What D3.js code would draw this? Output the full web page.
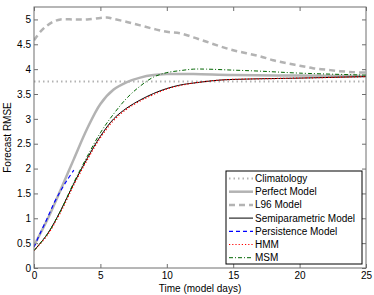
<!DOCTYPE html>
<html lang="en">
<head>
    <meta charset="UTF-8">
    <title>Forecast RMSE</title>
    <script src="https://cdn.jsdelivr.net/npm/d3@7/dist/d3.min.js"></script>
    <style>
        body { margin: 0; background: #fff; }
        text { font-family: "Liberation Sans", Arial, sans-serif; fill: #000; }
    </style>
</head>
<body>
    <div id="chart"></div>
    <script>
        // 数据
        const climT = [0, 25];
        const climV = [3.75, 3.75];

        const perfT = [0, 1, 2, 3, 4, 5, 6, 7, 8, 9, 10, 12, 15, 20, 25];
        const perfV = [0.45, 0.97, 1.57, 2.19, 2.8, 3.3, 3.59, 3.74, 3.83, 3.88, 3.9, 3.9, 3.88, 3.87, 3.86];

        const l96T = [0, 0.5, 1, 1.5, 2, 3, 4, 5, 5.5, 6, 7, 8, 9, 10, 11, 12, 13, 14, 15, 16, 17, 18, 19, 20, 21, 22, 23, 24, 25];
        const l96V = [4.58, 4.76, 4.88, 4.96, 5.0, 5.0, 5.0, 5.03, 5.04, 5.01, 4.95, 4.88, 4.81, 4.75, 4.72, 4.64, 4.55, 4.46, 4.38, 4.32, 4.26, 4.18, 4.12, 4.07, 4.02, 3.99, 3.96, 3.94, 3.93];

        const semiT = [0, 1, 2, 3, 4, 5, 6, 7, 8, 9, 10, 11, 12, 14, 16, 20, 25];
        const semiV = [0.35, 0.68, 1.15, 1.7, 2.2, 2.65, 3.0, 3.22, 3.38, 3.51, 3.61, 3.68, 3.72, 3.78, 3.8, 3.82, 3.85];

        const persT = [0, 0.5, 1, 1.5, 2, 2.5, 3];
        const persV = [0.42, 0.72, 1.0, 1.3, 1.55, 1.77, 1.97];

        const hmmT = [0, 1, 2, 3, 4, 5, 6, 7, 8, 9, 10, 11, 12, 14, 16, 20, 25];
        const hmmV = [0.35, 0.66, 1.12, 1.67, 2.17, 2.62, 2.97, 3.2, 3.36, 3.49, 3.6, 3.67, 3.72, 3.78, 3.8, 3.82, 3.85];

        const msmT = [0, 1, 2, 3, 4, 5, 6, 7, 8, 9, 10, 11, 12, 13, 15, 17, 20, 25];
        const msmV = [0.35, 0.68, 1.15, 1.72, 2.24, 2.72, 3.1, 3.42, 3.66, 3.84, 3.93, 3.97, 4.0, 4.0, 3.98, 3.96, 3.92, 3.88];

        const xTicks = [0, 5, 10, 15, 20, 25];
        const yTicks = [0, 0.5, 1, 1.5, 2, 2.5, 3, 3.5, 4, 4.5, 5];

        const series = [
            { name: "Climatology", t: climT, v: climV, color: "#b3b3b3", width: 2, dash: "1.5,3" },
            { name: "Perfect Model", t: perfT, v: perfV, color: "#b3b3b3", width: 2.5, dash: null },
            { name: "L96 Model", t: l96T, v: l96V, color: "#b3b3b3", width: 2.5, dash: "6,4" },
            { name: "Semiparametric Model", t: semiT, v: semiV, color: "#000000", width: 1, dash: null },
            { name: "Persistence Model", t: persT, v: persV, color: "#0000ff", width: 1.2, dash: "4,3" },
            { name: "HMM", t: hmmT, v: hmmV, color: "#ff0000", width: 1.2, dash: "1.2,2" },
            { name: "MSM", t: msmT, v: msmV, color: "#006400", width: 1, dash: "4,2,1,2" }
        ];

        const W = 374, H = 295;
        const margin = { top: 7, right: 8, bottom: 27, left: 34 };
        const width = W - margin.left - margin.right;
        const height = H - margin.top - margin.bottom;

        const x = d3.scaleLinear().domain([0, 25]).range([0, width]);
        const y = d3.scaleLinear().domain([0, 5.25]).range([height, 0]);

        const svg = d3.select("#chart").append("svg")
            .attr("width", W).attr("height", H);
        const g = svg.append("g")
            .attr("transform", "translate(" + margin.left + "," + margin.top + ")");

        const axisColor = "#6e6e6e";
        const fmt = d => String(d);

        // axes (box with inward ticks, like matlab)
        const styleAxis = sel => {
            sel.select(".domain").remove();
            sel.selectAll(".tick line").attr("stroke", axisColor);
            sel.selectAll(".tick text").style("font-size", "10px");
        };
        g.append("g").attr("transform", "translate(0," + height + ")")
            .call(d3.axisBottom(x).tickValues(xTicks).tickFormat(fmt).tickSizeInner(-4).tickPadding(4))
            .call(styleAxis);
        g.append("g")
            .call(d3.axisTop(x).tickValues(xTicks).tickFormat("").tickSizeInner(-4))
            .call(styleAxis);
        g.append("g")
            .call(d3.axisLeft(y).tickValues(yTicks).tickFormat(fmt).tickSizeInner(-4).tickPadding(3))
            .call(styleAxis);
        g.append("g").attr("transform", "translate(" + width + ",0)")
            .call(d3.axisRight(y).tickValues(yTicks).tickFormat("").tickSizeInner(-4))
            .call(styleAxis);

        // lines
        const line = d3.line().x(d => x(d[0])).y(d => y(d[1])).curve(d3.curveCatmullRom.alpha(0.5));
        g.append("clipPath").attr("id", "clip").append("rect")
            .attr("width", width).attr("height", height);
        const plot = g.append("g").attr("clip-path", "url(#clip)");
        series.forEach(s => {
            const pts = s.t.map((t, i) => [t, s.v[i]]);
            plot.append("path")
                .datum(pts)
                .attr("fill", "none")
                .attr("stroke", s.color)
                .attr("stroke-width", s.width)
                .attr("stroke-dasharray", s.dash)
                .attr("d", line);
        });

        // frame
        g.append("rect")
            .attr("width", width).attr("height", height)
            .attr("fill", "none").attr("stroke", axisColor).attr("stroke-width", 1);

        // axis labels
        svg.append("text")
            .attr("x", margin.left + width / 2).attr("y", 292)
            .attr("text-anchor", "middle").style("font-size", "10px")
            .text("Time (model days)");
        svg.append("text")
            .attr("transform", "translate(11," + (margin.top + height / 2) + ") rotate(-90)")
            .attr("text-anchor", "middle").style("font-size", "10px")
            .text("Forecast RMSE");

        // legend
        const leg = svg.append("g").attr("transform", "translate(226,171)");
        leg.append("rect").attr("width", 136).attr("height", 93)
            .attr("fill", "#fff").attr("stroke", "#000").attr("stroke-width", 1);
        series.forEach((s, i) => {
            const ly = 7.5 + i * 13.2;
            leg.append("line")
                .attr("x1", 3).attr("x2", 27).attr("y1", ly).attr("y2", ly)
                .attr("stroke", s.color).attr("stroke-width", s.width)
                .attr("stroke-dasharray", s.dash);
            leg.append("text")
                .attr("x", 29).attr("y", ly).attr("dy", "0.35em")
                .style("font-size", "10px")
                .text(s.name);
        });
    </script>
</body>
</html>
